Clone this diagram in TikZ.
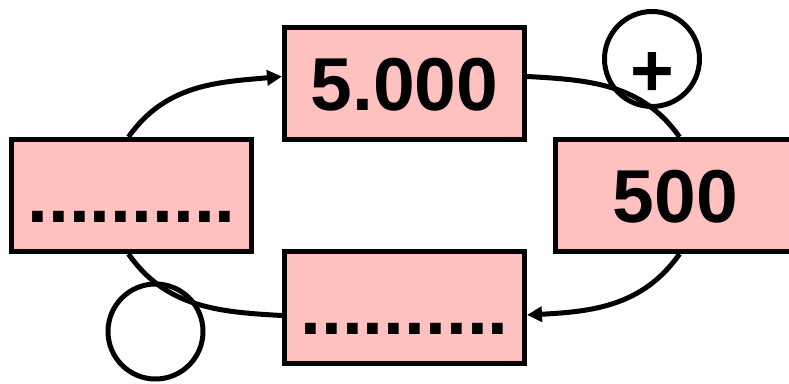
\documentclass[tikz,border=0pt]{standalone}
\usepackage{fontspec}
\setmainfont{Liberation Sans}
\usepackage{tikz}
\usetikzlibrary{positioning, arrows.meta}
\definecolor{boxpink}{RGB}{255,192,192}

\begin{document}
\begin{tikzpicture}[
    x=1pt, y=1pt,
    stage/.style={draw, line width=5pt, fill=boxpink, minimum width=240pt, minimum height=112pt, inner sep=0pt, font=\fontsize{75}{75}\selectfont\bfseries, text height=53.7pt, text depth=0pt},
    ring/.style={draw, circle, line width=5pt, minimum size=95pt, inner sep=0pt, font=\fontsize{75}{75}\selectfont\bfseries, text height=75pt, text depth=0pt},
    flow/.style={draw, line width=5pt},
    tip/.style={-{Triangle[length=15pt, width=15pt]}}
]
\useasboundingbox (0,0) rectangle (789,383);
\node[stage] (top) at (404.5,299.5) {5.000};
\node[stage] (rgt) at (675.5,187.5) {500};
\node[stage] (lft) at (131.5,187.5) {..........};
\node[stage] (bot) at (404.5,75.5) {..........};
\draw[flow, tip] ([xshift=-3pt]lft.north) to[out=55, in=185] ([yshift=7pt]top.west);
\draw[flow] ([yshift=7pt]top.east) to[out=-3, in=125] ([xshift=4pt]rgt.north);
\draw[flow, tip] ([xshift=4pt]rgt.south) to[out=-125, in=3] ([yshift=-7.5pt]bot.east);
\draw[flow] ([yshift=-8pt]bot.west) to[out=177, in=-55] ([xshift=-3pt]lft.south);
\node[ring] (plus) at (652,324) {+};
\node[ring] (blank) at (155.5,51.5) {};
\end{tikzpicture}
\end{document}
